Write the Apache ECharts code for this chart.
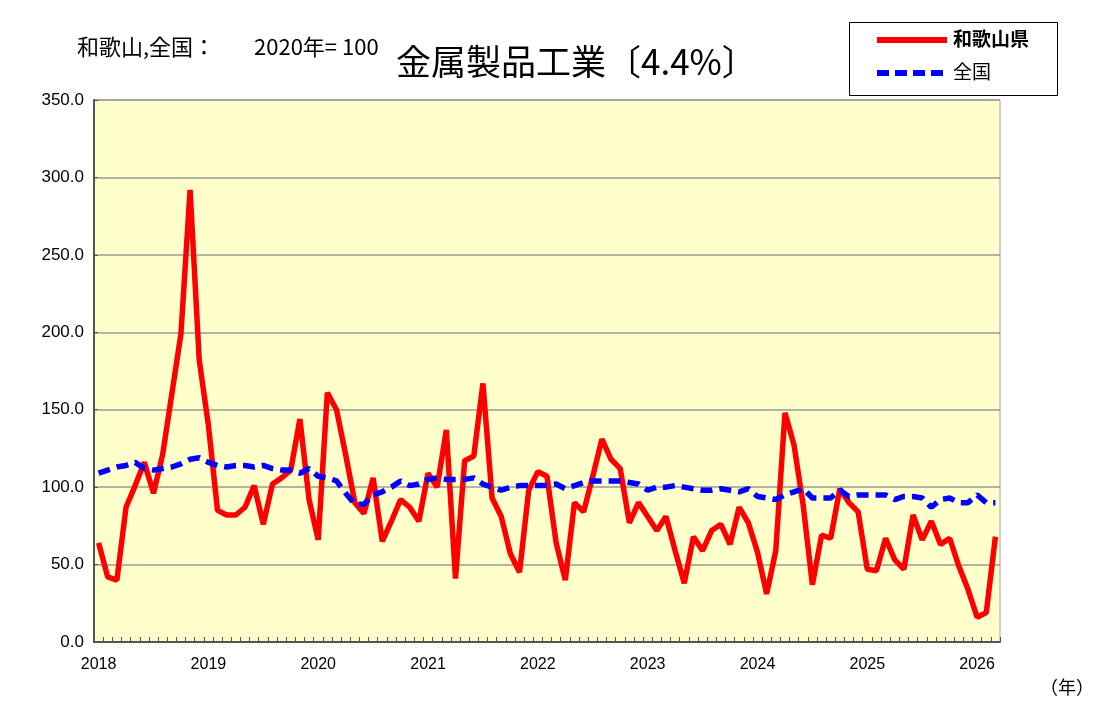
<!DOCTYPE html>
<html>
<head>
<meta charset="utf-8">
<script src="https://cdn.jsdelivr.net/npm/echarts@6/dist/echarts.min.js"></script>
<style>
html,body{margin:0;padding:0;background:#fff;}
#chart{width:1098px;height:717px;}
</style>
</head>
<body>
<div id="chart"></div>
<script>
// Monthly data: Jan 2018 .. Mar 2026
const startYear = 2018;
const monthCount = 99;
const categories = [];
for (let i = 0; i < monthCount; i++) {
  const y = startYear + Math.floor(i / 12);
  const m = (i % 12) + 1;
  categories.push(y + '-' + (m < 10 ? '0' + m : m));
}
const wakayama = [
  64, 42, 40, 87, 101, 116, 96, 121, 160, 199,
  292, 182, 140, 85, 82, 82, 87, 101, 76, 102,
  106, 111, 144, 92, 66, 161, 150, 121, 90, 83,
  106, 65, 78, 92, 87, 78, 109, 100, 137, 41,
  117, 120, 167, 93, 81, 57, 45, 98, 110, 107,
  64, 40, 90, 84, 107, 131, 118, 112, 77, 90,
  81, 72, 81, 59, 38, 68, 59, 72, 76, 63,
  87, 77, 58, 31, 59, 148, 127, 88, 37, 69,
  67, 99, 90, 84, 47, 46, 67, 53, 47, 82,
  66, 78, 63, 67, 49, 34, 16, 19, 68
];
const zenkoku = [
  109, 111, 113, 114, 116, 112, 111, 112, 113, 115,
  118, 119, 116, 114, 113, 114, 114, 113, 114, 112,
  111, 111, 109, 112, 107, 106, 104, 96, 89, 89,
  95, 97, 100, 104, 101, 102, 105, 106, 105, 105,
  105, 106, 102, 100, 98, 100, 101, 101, 101, 101,
  102, 99, 101, 103, 104, 104, 104, 104, 103, 102,
  98, 100, 100, 101, 100, 99, 98, 98, 99, 98,
  97, 99, 94, 93, 92, 95, 97, 99, 93, 93,
  93, 98, 94, 95, 95, 95, 95, 92, 94, 94,
  93, 87, 92, 93, 90, 90, 95, 90, 90
];
const seriesNames = ['和歌山県', '全国'];
const yTicks = { min: 0, max: 350, interval: 50 };
const titleText = '金属製品工業〔4.4%〕';
const subTextA = '和歌山,全国：';
const subTextB = '2020年= 100';
const unitText = '（年）';

const FONT = '"Noto Sans CJK JP", "Liberation Sans", sans-serif';
const RED = '#ff0000';
const BLUE = '#0000ff';

const chart = echarts.init(document.getElementById('chart'), null, { renderer: 'canvas' });
chart.setOption({
  backgroundColor: '#ffffff',
  animation: false,
  textStyle: { fontFamily: FONT },
  grid: {
    left: 94, top: 100, width: 906, height: 542,
    show: true, backgroundColor: '#FFFFCC', borderColor: '#a0a0a0', borderWidth: 1
  },
  graphic: [
    { type: 'text', left: 77, top: 36, style: { text: subTextA, font: '22px ' + FONT, fill: '#000' } },
    { type: 'text', left: 254, top: 36, style: { text: subTextB, font: '22px ' + FONT, fill: '#000' } },
    { type: 'text', left: 396, top: 44, style: { text: titleText, font: '35px ' + FONT, fill: '#000' } },
    { type: 'text', left: 1040, top: 678, style: { text: unitText, font: '18px ' + FONT, fill: '#000' } },
    { type: 'rect', shape: { x: 849.5, y: 22.5, width: 208, height: 73 }, style: { fill: '#fff', stroke: '#000', lineWidth: 1 }, z: 0 },
    { type: 'line', shape: { x1: 877, y1: 40, x2: 947, y2: 40 }, style: { stroke: RED, lineWidth: 6 }, z: 1 },
    { type: 'line', shape: { x1: 877, y1: 73, x2: 947, y2: 73 }, style: { stroke: BLUE, lineWidth: 6, lineDash: [12, 6] }, z: 1 },
    { type: 'text', left: 953, top: 29, style: { text: seriesNames[0], font: 'bold 19px ' + FONT, fill: '#000' }, z: 1 },
    { type: 'text', left: 953, top: 62, style: { text: seriesNames[1], font: '19px ' + FONT, fill: '#000' }, z: 1 }
  ],
  xAxis: {
    type: 'category',
    data: categories,
    boundaryGap: true,
    axisLine: { lineStyle: { color: '#555', width: 2 } },
    axisTick: { show: true, inside: true, length: 5, interval: 0, lineStyle: { color: '#555' } },
    axisLabel: {
      interval: function (idx) { return idx % 12 === 0; },
      formatter: function (v) { return v.slice(0, 4); },
      fontSize: 16, color: '#000', margin: 15, fontFamily: '"Liberation Sans", sans-serif'
    },
    splitLine: { show: false }
  },
  yAxis: {
    type: 'value',
    min: yTicks.min, max: yTicks.max, interval: yTicks.interval,
    axisLine: { show: true, lineStyle: { color: '#555', width: 2 } },
    axisTick: { show: true, inside: true, length: 4, lineStyle: { color: '#555' } },
    axisLabel: {
      formatter: function (v) { return v.toFixed(1); },
      fontSize: 17, color: '#000', margin: 10, fontFamily: '"Liberation Sans", sans-serif'
    },
    splitLine: { show: true, lineStyle: { color: '#999', width: 1.5 } }
  },
  series: [
    {
      name: seriesNames[0], type: 'line', data: wakayama, symbol: 'none',
      lineStyle: { color: RED, width: 5.5 }, itemStyle: { color: RED }, z: 3
    },
    {
      name: seriesNames[1], type: 'line', data: zenkoku, symbol: 'none',
      lineStyle: { color: BLUE, width: 5.5, type: [12, 7] }, itemStyle: { color: BLUE }, z: 4
    }
  ]
});
</script>
</body>
</html>
